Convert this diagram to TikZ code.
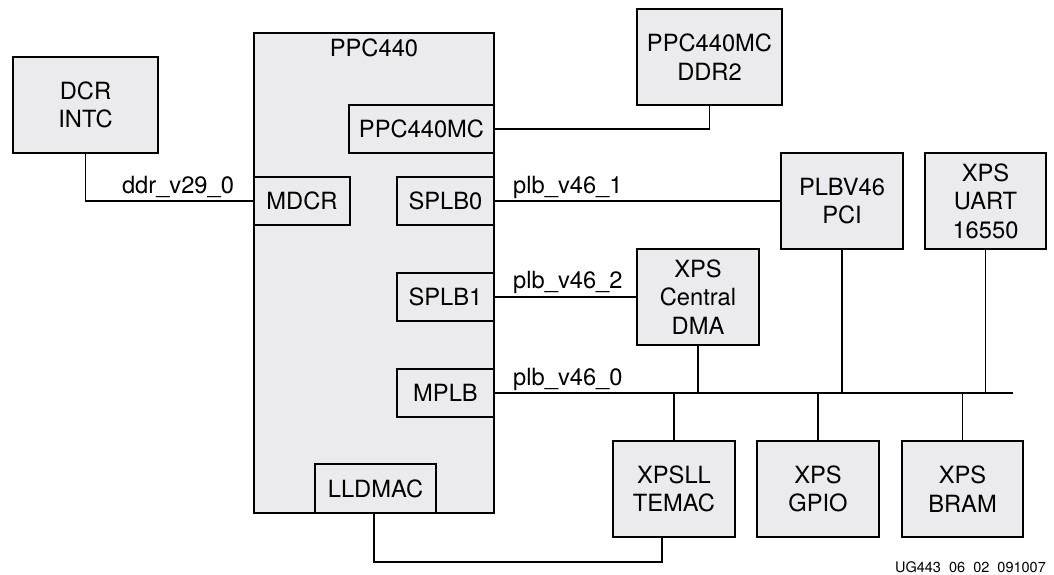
\documentclass[tikz,border=0pt]{standalone}
\usepackage{fontspec}
\setmainfont{TeX Gyre Heros}
\definecolor{boxfill}{RGB}{235,235,237}
\begin{document}
\begin{tikzpicture}[x=1pt,y=-1pt,
  blk/.style={draw=black, fill=boxfill, line width=1.8pt, inner sep=0pt, align=center,
    font=\fontsize{23.7}{28.5}\selectfont},
  wire/.style={line width=1.3pt},
  lbl/.style={inner sep=0pt, font=\fontsize{23.7}{28.5}\selectfont}]
\useasboundingbox (0,0) rectangle (1054,575);
% big PPC440 block
\node[blk, minimum width=240pt, minimum height=480pt] (ppc) at (374,273) {};
\node[lbl, anchor=base] (ppclbl) at (374,57) {PPC440};
% inner ports
\node[blk, minimum width=145pt, minimum height=48pt] (ppcmc) at (421.5,129) {PPC440MC};
\node[blk, minimum width=96pt, minimum height=48pt] (mdcr) at (302,201) {MDCR};
\node[blk, minimum width=97pt, minimum height=48pt] (splb0) at (445.5,201) {SPLB0};
\node[blk, minimum width=97pt, minimum height=48pt] (splb1) at (445.5,297) {SPLB1};
\node[blk, minimum width=97pt, minimum height=48pt] (mplb) at (445.5,393) {MPLB};
\node[blk, minimum width=121pt, minimum height=49pt] (lldmac) at (375.5,488.5) {LLDMAC};
% peripherals
\node[blk, minimum width=145pt, minimum height=96pt] (dcr) at (85.5,105) {DCR\\INTC};
\node[blk, minimum width=145pt, minimum height=96pt] (ddr2) at (709.5,57) {PPC440MC\\DDR2};
\node[blk, minimum width=122pt, minimum height=96pt] (pci) at (842,201) {PLBV46\\PCI};
\node[blk, minimum width=121pt, minimum height=96pt] (uart) at (985.5,201) {XPS\\UART\\16550};
\node[blk, minimum width=122pt, minimum height=96pt] (dma) at (698,297) {XPS\\Central\\DMA};
\node[blk, minimum width=122pt, minimum height=96pt] (temac) at (674,489) {XPSLL\\TEMAC};
\node[blk, minimum width=122pt, minimum height=96pt] (gpio) at (818,489) {XPS\\GPIO};
\node[blk, minimum width=121pt, minimum height=96pt] (bram) at (962.5,489) {XPS\\BRAM};
% connectors
\draw[wire] (dcr.south) |- (mdcr.west);
\draw[wire] (ppcmc.east) -| (ddr2.south);
\draw[wire] (splb0.east) -- (pci.west);
\draw[wire] (splb1.east) -- (dma.west);
\coordinate (busend) at (1013,393);
\draw[wire] (mplb.east) -- (busend);
\draw[wire] (dma.south) -- (dma.south |- mplb.east);
\draw[wire] (pci.south) -- (pci.south |- mplb.east);
\draw[wire] (uart.south) -- (uart.south |- mplb.east);
\draw[wire] (temac.north) -- (temac.north |- mplb.east);
\draw[wire] (gpio.north) -- (gpio.north |- mplb.east);
\draw[wire] (bram.north) -- (bram.north |- mplb.east);
\coordinate (tmin) at ([xshift=-12pt]temac.south);
\draw[wire] ([xshift=-1.5pt]lldmac.south) -- ++(0,48) -| (tmin);
% labels
\node[lbl, anchor=base] (l0) at (178,193) {ddr\_v29\_0};
\node[lbl, anchor=base west] (l1) at (513,193) {plb\_v46\_1};
\node[lbl, anchor=base west] (l2) at (513,288) {plb\_v46\_2};
\node[lbl, anchor=base west] (l3) at (513,385) {plb\_v46\_0};
\node[inner sep=0pt, anchor=base east, font=\fontsize{14.5}{17}\selectfont] (fig) at (1046,572) {UG443\hphantom{\_}06\hphantom{\_}02\hphantom{\_}091007};
\end{tikzpicture}
\end{document}
